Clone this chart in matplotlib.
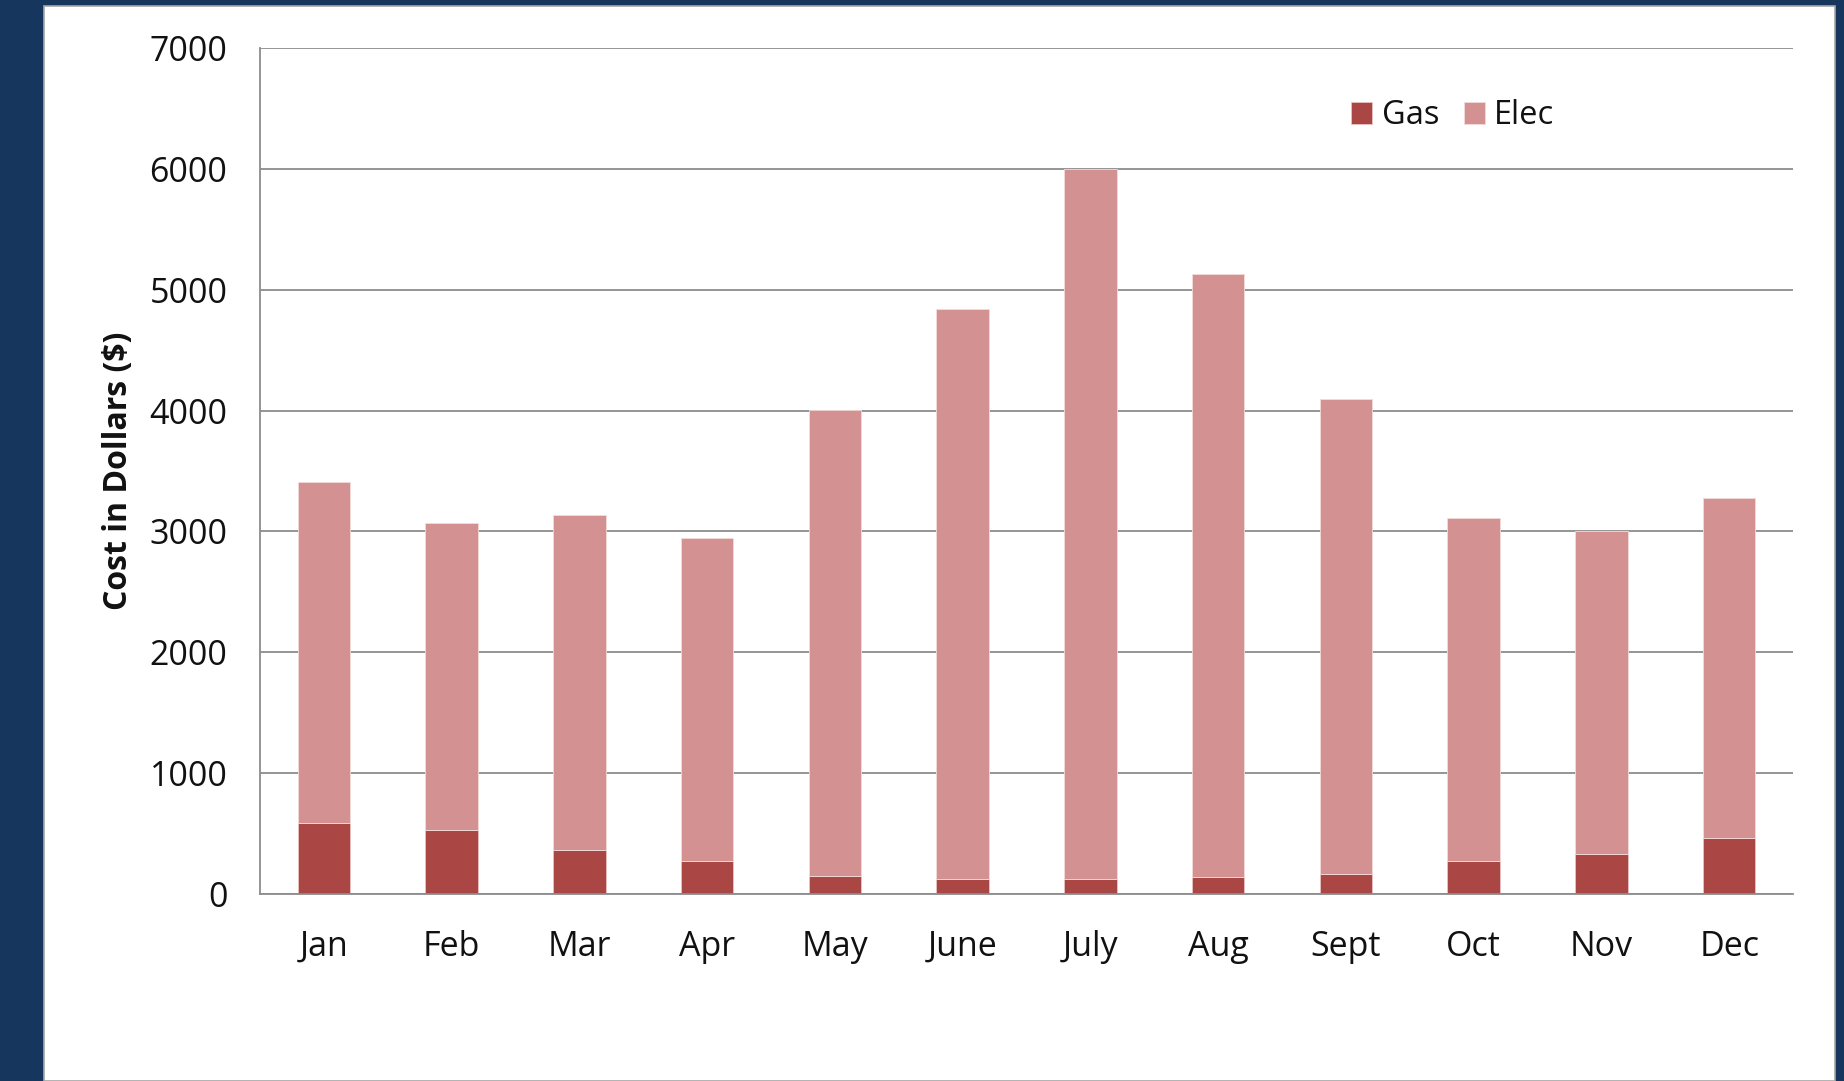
import matplotlib
matplotlib.use("Agg")
import matplotlib.pyplot as plt
from matplotlib.patches import Rectangle
import numpy as np

months = ["Jan", "Feb", "Mar", "Apr", "May", "June", "July", "Aug", "Sept", "Oct", "Nov", "Dec"]
gas = [585, 526, 361, 269, 151, 121, 121, 138, 165, 270, 331, 465]
elec = [2822, 2540, 2779, 2679, 3854, 4722, 5879, 4992, 3932, 2840, 2669, 2808]
yticks = [0, 1000, 2000, 3000, 4000, 5000, 6000, 7000]

plt.rcParams['font.family'] = ['Open Sans', 'DejaVu Sans']

W, H = 1844, 1081
fig = plt.figure(figsize=(W / 100, H / 100), dpi=100)
fig.patch.set_facecolor('#17365D')

# white panel
panel = Rectangle((44 / W, 0), (1835 - 44) / W, (H - 6) / H, transform=fig.transFigure,
                  facecolor='white', edgecolor='#a6a6a6', linewidth=1.2, zorder=-10)
fig.add_artist(panel)

ax = fig.add_axes([260 / W, (H - 894) / H, (1793 - 260) / W, (894 - 48) / H])
ax.set_zorder(1)
ax.set_facecolor('white')

x = np.arange(len(months))
gas_c = '#AA4644'
elec_c = '#D39291'
ax.bar(x, gas, width=0.41, color=gas_c, edgecolor='#e8c4c3', linewidth=0.6, label='Gas', zorder=3)
ax.bar(x, elec, width=0.41, bottom=gas, color=elec_c, edgecolor='#f2dcdb', linewidth=0.6, label='Elec', zorder=3)

ax.set_xlim(-0.5, len(months) - 0.5)
ax.set_ylim(0, 7000)
ax.set_yticks(yticks)
ax.set_yticklabels([str(v) for v in yticks])
ax.set_xticks(x)
ax.set_xticklabels(months)

ax.yaxis.grid(True, color='#8c8c8c', linewidth=1.3, zorder=0)
ax.set_axisbelow(True)
for s in ['top', 'right']:
    ax.spines[s].set_visible(False)
for s in ['left', 'bottom']:
    ax.spines[s].set_color('#8c8c8c')
    ax.spines[s].set_linewidth(1.3)
ax.spines['bottom'].set_zorder(4)

ax.tick_params(axis='both', length=0, labelsize=24.5, labelcolor='#111111')
ax.tick_params(axis='y', pad=23.5)
ax.tick_params(axis='x', pad=26)

ax.set_ylabel('Cost in Dollars ($)', fontsize=23, fontweight='bold', color='#111111', labelpad=10)

leg = ax.legend(loc='center left', bbox_to_anchor=(1351 / W, (H - 116) / H), bbox_transform=fig.transFigure,
                ncol=2, frameon=False, fontsize=23.5, handlelength=0.64, handleheight=0.64,
                handletextpad=0.3, columnspacing=0.75, borderpad=0, borderaxespad=0)
for t in leg.get_texts():
    t.set_color('#111111')

fig.savefig('out.png', dpi=100, facecolor=fig.get_facecolor())
